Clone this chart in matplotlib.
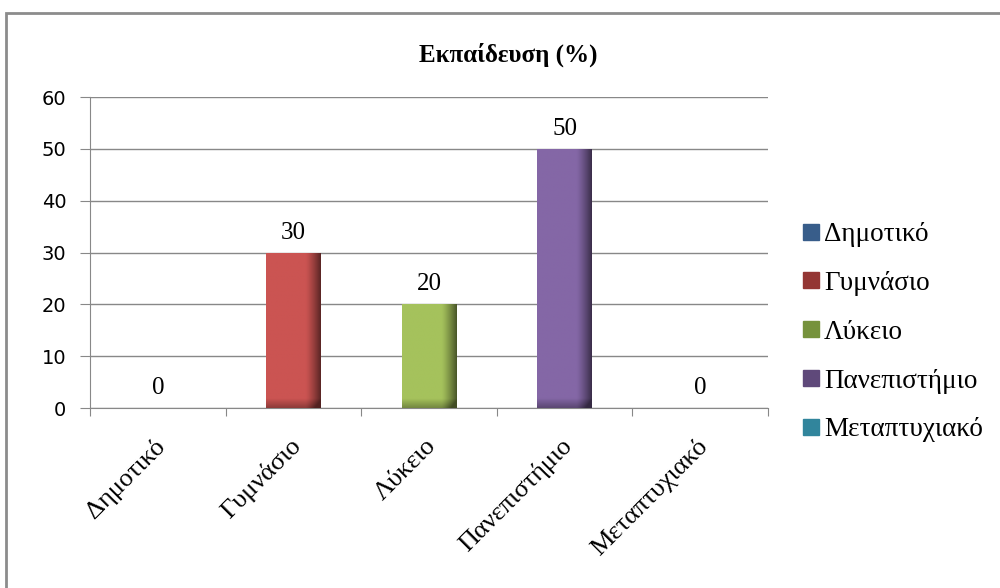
import matplotlib.pyplot as plt
import matplotlib.transforms as mtransforms
from matplotlib.lines import Line2D
from matplotlib.patches import Rectangle
import numpy as np

# Data
categories = ["Δημοτικό", "Γυμνάσιο", "Λύκειο", "Πανεπιστήμιο", "Μεταπτυχιακό"]
values = [0, 30, 20, 50, 0]
bar_colors = ["#4F81BD", "#CB5452", "#A5C25C", "#8467A6", "#4BACC6"]
legend_colors = ["#385D8A", "#943634", "#76923C", "#5F497A", "#31859C"]
yticks = [0, 10, 20, 30, 40, 50, 60]

serif = ["Liberation Serif", "DejaVu Serif"]

fig = plt.figure(figsize=(10, 5.88), dpi=100)
ax = fig.add_axes([0.09, 0.306, 0.678, 0.529])

x = np.arange(len(categories))
bars = ax.bar(x, values, width=0.4, color=bar_colors, zorder=3, linewidth=0)

# Excel-like shading: darker on the right edge and the bottom
def shade(bar, color):
    x0, y0 = bar.get_x(), bar.get_y()
    w, h = bar.get_width(), bar.get_height()
    if h <= 0:
        return
    rgb = np.array(plt.matplotlib.colors.to_rgb(color))
    u = np.linspace(0, 1, 60)
    v = np.linspace(0, h, 200)
    dark_x = np.clip((u - 0.72) / 0.28, 0, 1) ** 1.3 * 0.55
    dark_y = np.clip((1.8 - v) / 1.8, 0, 1) * 0.3
    dark = np.clip(dark_x[None, :] + dark_y[:, None], 0, 0.6)
    img = rgb[None, None, :] * (1 - dark[:, :, None])
    im = ax.imshow(img, extent=(x0, x0 + w, y0, y0 + h), origin="lower",
                   aspect="auto", zorder=4, interpolation="bilinear")
    im.set_clip_path(bar)

for b, c in zip(bars, bar_colors):
    shade(b, c)

for xi, v in zip(x, values):
    ax.text(xi, v + 2.7, str(v), ha="center", va="baseline", fontsize=18,
            family=serif, zorder=5)

ax.set_xlim(-0.5, len(categories) - 0.5)
ax.set_ylim(0, 60)
ax.set_yticks(yticks)
ax.set_yticklabels([str(t) for t in yticks], family="DejaVu Sans", fontsize=14)
ax.yaxis.grid(True, color="#888888", linewidth=1)
ax.set_axisbelow(True)

for s in ["top", "right"]:
    ax.spines[s].set_visible(False)
for s in ["left", "bottom"]:
    ax.spines[s].set_color("#888888")
ax.tick_params(axis="y", length=7, color="#888888", pad=10)

# ticks between categories, labels at the centers
ax.set_xticks(np.arange(-0.5, len(categories), 1))
ax.set_xticklabels([])
ax.tick_params(axis="x", which="major", length=6, direction="out", color="#888888")
ax.set_xticks(x, minor=True)
ax.set_xticklabels(categories, minor=True, rotation=45, ha="right", va="center",
                   rotation_mode="anchor", family=serif, fontsize=19)
ax.tick_params(axis="x", which="minor", length=0, pad=25)
offset = mtransforms.ScaledTranslation(0.04, 0, fig.dpi_scale_trans)
for lbl in ax.get_xticklabels(minor=True):
    lbl.set_transform(lbl.get_transform() + offset)

fig.text(0.508, 0.906, "Εκπαίδευση (%)", ha="center", va="center",
         fontsize=18, fontweight="bold", family=serif)

handles = [Line2D([], [], marker="s", linestyle="none", markersize=11,
                  markerfacecolor=c, markeredgecolor=c) for c in legend_colors]
fig.legend(handles, categories, loc="center left", bbox_to_anchor=(0.793, 0.435),
           frameon=False, prop={"family": serif, "size": 19.5}, handlelength=0.55,
           handletextpad=0.2, labelspacing=0.88, borderaxespad=0)

# outer chart frame
fig.patches.append(Rectangle((0.006, -0.05), 1.1, 1.028, transform=fig.transFigure,
                             fill=False, edgecolor="#8c8c8c", linewidth=2))

fig.savefig("out.png", dpi=100)
